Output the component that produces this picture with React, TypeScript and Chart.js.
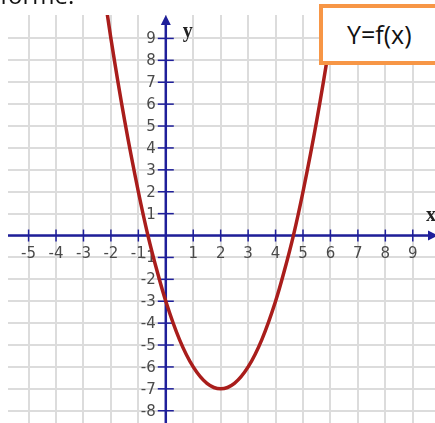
import React, { useEffect, useRef } from "react";
import { Chart, registerables } from "chart.js";

Chart.register(...registerables);

// Curve points
const curveX = [-2.25, -2, -1.5, -1, -0.65, -0.3, 0, 0.5, 1, 1.5, 2, 2.5, 3, 3.5, 4, 4.3, 4.65, 5, 5.5, 6, 6.25];
const curveY = [11.1, 9, 5.25, 2, 0, -1.7, -3, -4.75, -6, -6.75, -7, -6.75, -6, -4.75, -3, -1.7, 0, 2, 5.25, 9, 11.1];

// Axis tick labels
const xTickValues = [-5, -4, -3, -2, -1, 1, 2, 3, 4, 5, 6, 7, 8, 9];
const yTickValues = [9, 8, 7, 6, 5, 4, 3, 2, 1, -1, -2, -3, -4, -5, -6, -7, -8];
// Grid lines
const gridXValues = [-5, -4, -3, -2, -1, 0, 1, 2, 3, 4, 5, 6, 7, 8, 9];
const gridYValues = [-8, -7, -6, -5, -4, -3, -2, -1, 0, 1, 2, 3, 4, 5, 6, 7, 8, 9];

const X_MIN = -5.75;
const X_MAX = 9.81;
const Y_MIN = -8.56;
const Y_MAX = 10.07;

const AXIS_COLOR = "#1f1f9a";
const GRID_COLOR = "#dcdcdc";
const LABEL_COLOR = "#4a4a4a";
const CURVE_COLOR = "#a91d1b";

const axesPlugin = {
  id: "cartesianAxes",
  beforeDatasetsDraw(chart: any) {
    const { ctx, chartArea: area } = chart;
    const xs = chart.scales.x;
    const ys = chart.scales.y;
    ctx.save();
    // grid
    ctx.strokeStyle = GRID_COLOR;
    ctx.lineWidth = 2;
    gridXValues.forEach((v) => {
      const px = Math.round(xs.getPixelForValue(v));
      ctx.beginPath();
      ctx.moveTo(px, area.top);
      ctx.lineTo(px, area.bottom);
      ctx.stroke();
    });
    gridYValues.forEach((v) => {
      const py = Math.round(ys.getPixelForValue(v));
      ctx.beginPath();
      ctx.moveTo(area.left, py);
      ctx.lineTo(area.right, py);
      ctx.stroke();
    });

    const x0 = xs.getPixelForValue(0);
    const y0 = ys.getPixelForValue(0);

    // axes
    ctx.strokeStyle = AXIS_COLOR;
    ctx.fillStyle = AXIS_COLOR;
    ctx.lineWidth = 2.5;
    ctx.beginPath();
    ctx.moveTo(area.left, y0);
    ctx.lineTo(area.right, y0);
    ctx.stroke();
    ctx.beginPath();
    ctx.moveTo(x0, area.top + 4);
    ctx.lineTo(x0, area.bottom);
    ctx.stroke();

    // arrow heads
    ctx.beginPath();
    ctx.moveTo(x0, area.top);
    ctx.lineTo(x0 - 5, area.top + 10);
    ctx.lineTo(x0 + 5, area.top + 10);
    ctx.closePath();
    ctx.fill();
    ctx.beginPath();
    ctx.moveTo(area.right + 3, y0);
    ctx.lineTo(area.right - 7, y0 - 5);
    ctx.lineTo(area.right - 7, y0 + 5);
    ctx.closePath();
    ctx.fill();

    // tick marks
    ctx.lineWidth = 1.5;
    xTickValues.forEach((v) => {
      const px = xs.getPixelForValue(v);
      ctx.beginPath();
      ctx.moveTo(px, y0 - 6);
      ctx.lineTo(px, y0 + 6);
      ctx.stroke();
    });
    yTickValues.forEach((v) => {
      const py = ys.getPixelForValue(v);
      ctx.beginPath();
      ctx.moveTo(x0 - 8, py);
      ctx.lineTo(x0 + 8, py);
      ctx.stroke();
    });

    // tick labels
    ctx.fillStyle = LABEL_COLOR;
    ctx.font = "15px 'DejaVu Sans'";
    ctx.textAlign = "center";
    ctx.textBaseline = "top";
    xTickValues.forEach((v) => {
      const px = xs.getPixelForValue(v);
      ctx.fillText(String(v), px, y0 + 11);
    });
    ctx.textAlign = "right";
    ctx.textBaseline = "middle";
    yTickValues.forEach((v) => {
      const py = ys.getPixelForValue(v);
      ctx.fillText(String(v), x0 - 10, py + 1);
    });

    // axis names
    ctx.fillStyle = "#222222";
    ctx.font = "bold 20px 'Liberation Serif'";
    ctx.textAlign = "left";
    ctx.textBaseline = "alphabetic";
    ctx.fillText("y", x0 + 17, area.top + 22);
    ctx.fillText("x", area.right - 9, y0 - 15);
    ctx.restore();
  },
};

export default function App() {
  const canvasRef = useRef<HTMLCanvasElement | null>(null);

  useEffect(() => {
    const canvas = canvasRef.current;
    if (!canvas) return;
    const chart = new Chart(canvas, {
      type: "scatter",
      data: {
        datasets: [
          {
            data: curveX.map((x, i) => ({ x, y: curveY[i] })),
            showLine: true,
            borderColor: CURVE_COLOR,
            borderWidth: 3.5,
            pointRadius: 0,
            cubicInterpolationMode: "monotone",
            fill: false,
          },
        ],
      },
      options: {
        animation: false,
        responsive: false,
        devicePixelRatio: 1,
        layout: { padding: { left: 8, top: 15, right: 0, bottom: 0 } },
        plugins: { legend: { display: false }, tooltip: { enabled: false } },
        scales: {
          x: { type: "linear", min: X_MIN, max: X_MAX, display: false },
          y: { type: "linear", min: Y_MIN, max: Y_MAX, display: false },
        },
      },
      plugins: [axesPlugin],
    });
    return () => chart.destroy();
  }, []);

  return (
    <div style={{ position: "absolute", left: 0, top: 0, width: 435, height: 423, overflow: "hidden", background: "#ffffff" }}>
      <canvas ref={canvasRef} width={435} height={423} style={{ position: "absolute", left: 0, top: 0 }} />
      <div
        style={{
          position: "absolute",
          left: 0,
          top: -17,
          fontFamily: "'Open Sans', sans-serif",
          fontSize: 24,
          lineHeight: "24px",
          color: "#111",
          whiteSpace: "nowrap",
        }}
      >
        forme.
      </div>
      <div
        style={{
          position: "absolute",
          left: 319,
          top: 4,
          width: 130,
          height: 61,
          boxSizing: "border-box",
          border: "4px solid #F79646",
          background: "#ffffff",
        }}
      />
      <div
        style={{
          position: "absolute",
          left: 347,
          top: 22,
          fontFamily: "'Open Sans', sans-serif",
          fontSize: 25,
          lineHeight: "25px",
          color: "#111",
          whiteSpace: "nowrap",
        }}
      >
        Y=f(x)
      </div>
    </div>
  );
}
